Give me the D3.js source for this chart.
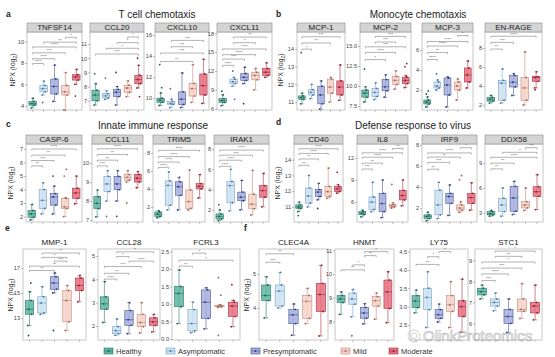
<!DOCTYPE html>
<html><head><meta charset="utf-8">
<script src="https://cdn.jsdelivr.net/npm/d3@7"></script>
<style>
body{margin:0;background:#fff;}
svg{display:block;font-family:"Liberation Sans",Arial,sans-serif;}
</style></head><body>
<svg id="c" width="555" height="357"></svg>
<script>
const groups = ["Healthy","Asymptomatic","Presymptomatic","Mild","Moderate"];
const panelNames = ["TNFSF14","CCL20","CXCL10","CXCL11","MCP-1","MCP-2","MCP-3","EN-RAGE",
  "CASP-6","CCL11","TRIM5","IRAK1","CD40","IL8","IRF9","DDX58",
  "MMP-1","CCL28","FCRL3","CLEC4A","HNMT","LY75","STC1"];
const sectionTitles = ["T cell chemotaxis","Monocyte chemotaxis","Innate immune response","Defense response to virus"];
const sectionLetters = ["a","b","c","d","e","f"];
const panelDomains = [[3.6,10.9],[6.35,11.85],[8.87,16.3],[5.8,18.2],[10.55,14.97],[7.0,16.75],[0,7.8],[1.47,9.7],
  [1.6,7.37],[6.9,11.0],[0.33,9.0],[0.8,8.5],[10.04,15.0],[3.3,13.9],[0.67,8.1],[1.9,11.3],
  [11.24,18.52],[1.4,5.3],[-0.03,2.57],[3.06,5.74],[7.22,11.06],[2.09,4.57],[5.21,9.55]];
const panelTicks = [[4,6,8,10],[7,8,9,10,11],[10,12,14,16],[6,9,12,15,18],[11,12,13,14],[7.5,10,12.5,15],[2,4,6],[2,4,6,8],
  [2,3,4,5,6,7],[7,8,9,10],[2,4,6,8],[2,4,6,8],[11,12,13,14],[6,9,12],[2,4,6,8],[3,6,9],
  [13,15,17],[2,3,4,5],[0,0.5,1,1.5,2,2.5],[4,5],[8,9,10,11],[2.5,3,3.5,4,4.5],[6,7,8,9]];
const panelTickFormat = ["d","d","d","d","d",".1f","d","d","d","d","d","d","d","d","d","d","d","d",".1f","d","d",".1f","d"];
// [whisker low, q1, median, q3, whisker high] per group
const panelStats = [
 [[3.8,4.05,4.2,4.4,4.7],[5.0,5.3,5.6,5.9,6.3],[4.4,5.1,5.8,6.5,7.8],[3.6,5.0,5.3,5.9,7.1],[6.0,6.4,6.7,6.9,7.4]],
 [[6.7,7.0,7.4,7.75,8.2],[7.1,7.2,7.35,7.5,7.7],[6.7,7.3,7.6,7.8,8.0],[7.3,7.6,7.9,8.1,8.4],[7.9,8.2,8.5,8.8,9.5]],
 [[9.3,9.6,9.8,10.0,10.5],[9.1,9.4,9.5,9.7,9.9],[9.1,9.4,9.9,10.6,12.4],[9.6,10.2,10.9,11.4,13.2],[9.5,10.3,11.2,12.3,13.7]],
 [[6.5,7.0,7.3,7.6,8.2],[9.6,10.0,10.3,10.7,11.0],[10.0,10.5,11.0,11.6,12.6],[9.0,10.6,11.3,11.8,12.4],[11.0,11.3,11.8,12.4,13.3]],
 [[10.9,11.15,11.25,11.35,11.5],[11.2,11.4,11.55,11.7,12.0],[10.6,10.9,11.4,11.9,12.2],[11.0,11.5,11.85,12.3,12.4],[11.1,11.4,11.85,12.2,13.1]],
 [[8.0,8.6,9.1,9.5,9.9],[8.3,8.7,9.2,9.7,10.4],[8.6,9.4,9.9,10.8,11.4],[9.6,10.2,10.7,11.2,11.9],[9.8,10.3,10.7,11.1,11.3]],
 [[0.3,0.6,0.8,1.0,1.3],[2.0,2.2,2.4,2.8,3.0],[0.3,1.5,2.5,3.2,3.3],[1.0,2.0,2.4,2.8,3.1],[2.2,2.8,3.5,4.2,4.9]],
 [[2.2,2.4,2.6,2.8,3.0],[2.2,2.5,4.3,4.6,5.8],[3.0,3.9,4.4,5.1,5.3],[2.0,2.5,3.8,4.9,7.6],[3.8,4.5,4.9,5.0,5.5]],
 [[1.75,1.95,2.2,2.45,2.9],[2.2,2.6,3.2,4.0,4.5],[2.2,2.85,3.45,3.7,4.25],[2.0,2.6,2.72,3.35,3.4],[2.95,3.35,3.75,4.1,5.0]],
 [[7.17,7.6,7.88,8.23,8.58],[8.0,8.5,8.9,9.3,9.6],[8.0,8.6,8.9,9.3,9.6],[9.0,9.1,9.25,9.4,9.6],[8.7,9.0,9.2,9.4,9.55]],
 [[0.8,0.95,1.2,1.45,1.6],[1.67,2.2,4.4,4.9,5.9],[1.67,3.3,4.25,4.8,5.3],[1.67,1.85,2.6,3.9,6.1],[3.0,4.0,4.3,4.6,5.6]],
 [[0.95,1.1,1.35,1.6,2.0],[1.9,2.7,4.4,4.8,6.0],[2.0,2.9,3.25,3.75,4.9],[1.5,2.1,2.55,3.55,5.9],[2.3,3.25,3.9,4.4,5.6]],
 [[10.7,10.9,11.0,11.13,11.3],[11.0,11.24,11.7,12.2,13.0],[11.45,11.66,11.94,12.1,12.5],[11.55,11.66,11.97,12.3,13.47],[11.87,11.98,12.15,12.3,12.42]],
 [[4.0,4.3,4.5,4.7,4.9],[4.7,5.0,6.0,6.7,8.7],[3.9,4.7,5.8,7.2,9.0],[5.2,5.35,5.5,5.7,5.9],[5.5,6.3,6.9,7.6,9.0]],
 [[0.8,1.0,1.2,1.35,1.6],[1.0,1.35,2.3,3.7,4.45],[1.3,2.45,3.1,3.4,4.2],[1.6,1.8,2.0,2.3,2.6],[1.8,2.45,3.0,3.4,4.4]],
 [[2.6,2.75,2.9,3.15,3.3],[2.6,3.16,3.96,4.76,6.0],[2.8,3.2,4.8,6.2,6.8],[3.3,3.6,3.95,4.35,6.0],[3.4,5.0,5.55,6.15,7.6]],
 [[12.4,13.3,13.7,14.4,15.1],[13.3,13.4,14.2,14.7,15.5],[15.0,15.3,15.8,16.3,16.6],[12.0,12.7,14.4,15.2,15.6],[14.3,15.2,15.6,16.2,16.4]],
 [[2.15,2.72,2.95,3.25,3.9],[1.6,1.67,1.8,1.97,2.3],[1.67,2.03,2.27,2.66,3.0],[1.7,1.97,2.15,2.5,3.0],[1.75,2.03,2.18,2.35,2.5]],
 [[0.44,0.92,1.3,1.5,1.97],[0.18,0.23,0.44,0.84,1.05],[0.29,0.59,1.05,1.4,1.46],[0.9,0.92,0.94,0.96,0.98],[0.35,0.64,0.94,1.05,1.1]],
 [[3.71,4.22,4.37,4.68,4.92],[4.0,4.06,4.5,4.68,5.05],[3.2,3.54,3.8,3.96,4.12],[3.54,3.7,4.2,4.37,4.58],[3.18,3.9,4.4,4.73,5.26]],
 [[8.3,8.8,8.95,9.1,9.25],[8.2,8.73,8.95,9.2,9.35],[7.9,8.14,8.36,8.6,8.75],[8.1,8.65,8.88,9.05,9.2],[7.95,8.55,9.25,9.75,10.1]],
 [[2.83,2.97,3.15,3.3,3.45],[2.43,2.92,3.25,3.5,3.95],[2.58,2.68,2.78,2.92,3.07],[2.43,2.87,3.05,3.3,3.68],[2.3,2.73,3.0,3.16,3.75]],
 [[7.17,7.36,7.52,7.68,7.83],[6.6,6.83,7.0,7.17,7.45],[5.57,6.0,6.33,6.67,7.17],[6.24,6.58,6.67,7.17,7.9],[6.17,6.5,6.83,7.0,7.83]]
];
const panelOutliers = [
 [[],[4.3],[],[],[4.9]],
 [[8.9],[8.6],[9.0],[],[10.0,7.3]],
 [[13.2,11.0],[10.9],[],[],[]],
 [[8.8],[12.0,7.5],[6.8],[],[]],
 [[13.8],[],[],[],[]],
 [[12.1],[],[],[],[12.4,12.8]],
 [[1.6,1.9],[3.6],[],[],[]],
 [[],[],[],[],[3.6]],
 [[],[],[5.0],[5.0,5.5],[]],
 [[],[7.2],[7.2],[7.9],[]],
 [[],[],[],[],[]],
 [[2.5],[],[],[],[]],
 [[10.45],[],[10.9],[],[13.2]],
 [[],[],[],[8.4],[]],
 [[],[],[],[4.7,5.1],[]],
 [[],[],[],[],[]],
 [[11.6,15.8],[],[12.0],[],[]],
 [[],[],[],[],[]],
 [[],[],[],[1.75,1.25,0.1],[1.55]],
 [[],[],[],[],[]],
 [[],[7.4],[],[],[]],
 [[],[],[],[],[]],
 [[],[],[],[],[]]
];
// [group i, group j, label, y value]
const panelBrackets = [
 [[0,1,"****",7.95],[0,2,"****",8.4],[0,3,"***",8.95],[0,4,"****",9.5],[1,4,"**",9.95],[3,4,"*",10.4]],
 [[3,4,"*",11.5],[2,4,"*",11.1],[1,4,"*",10.7],[0,4,"***",10.3]],
 [[1,4,"***",15.5],[1,3,"***",14.9],[0,4,"***",14.3],[0,3,"**",13.5]],
 [[1,4,"**",17.4],[1,3,"*",16.5],[0,4,"****",15.5],[0,3,"****",14.6],[0,2,"***",13.9],[0,1,"****",12.9]],
 [[0,4,"***",14.7],[0,3,"**",14.35],[0,1,"*",14.0]],
 [[1,4,"***",16.2],[1,3,"***",15.5],[0,4,"***",14.9],[0,3,"****",14.2],[0,2,"*",13.3]],
 [[3,4,"*",7.45],[0,4,"****",6.85],[0,3,"****",6.4],[0,2,"**",5.75],[0,1,"****",5.05]],
 [[0,4,"****",9.25],[0,2,"***",8.6],[0,1,"**",7.9]],
 [[0,4,"****",7.0],[0,3,"**",6.55],[0,2,"***",6.15],[0,1,"**",5.75]],
 [[0,4,"****",10.75],[0,3,"**",10.45],[0,2,"**",10.15],[0,1,"***",9.85]],
 [[0,4,"****",8.3],[0,3,"****",7.6],[0,2,"****",7.0],[0,1,"****",6.4]],
 [[0,4,"****",7.9],[0,3,"***",7.4],[0,2,"****",6.9],[0,1,"****",6.3]],
 [[0,4,"****",14.7],[0,3,"****",14.4],[0,2,"**",14.05],[0,1,"**",13.65]],
 [[3,4,"**",13.3],[0,4,"****",12.7],[0,3,"****",12.1],[0,2,"**",11.3],[0,1,"***",10.5]],
 [[3,4,"*",7.75],[0,4,"****",7.25],[0,3,"**",6.85],[0,2,"***",6.35],[0,1,"**",5.7]],
 [[3,4,"***",10.85],[1,4,"*",10.3],[0,4,"****",9.7],[0,2,"**",9.0],[0,1,"**",8.3]],
 [[1,4,"**",18.2],[1,3,"*",17.85],[2,3,"***",17.55],[0,4,"**",17.15],[0,2,"**",16.8]],
 [[1,4,"*",5.18],[1,2,"*",4.98],[2,4,"****",4.78],[0,3,"***",4.55],[0,2,"**",4.26],[0,1,"****",4.01]],
 [[1,2,"*",2.45],[0,4,"*",2.25],[0,1,"**",2.08]],
 [[0,2,"**",5.6],[0,1,"***",5.35]],
 [[2,4,"*",10.95],[2,3,"**",10.78],[1,2,"*",10.39],[0,2,"**",10.18]],
 [[2,3,"*",4.5],[1,2,"*",4.36],[0,2,"**",4.15]],
 [[1,4,"*",9.45],[1,3,"**",9.2],[0,4,"*",8.93],[0,3,"***",8.64],[0,2,"****",8.36],[0,1,"***",8.05]]
];

// styles
const groupFill = ["#5db4a1","#cde2f1","#a6afdd","#f5d2c7","#e66f7f"];
const groupStroke = ["#2c7a68","#7aa2c5","#4a569a","#c68a7d","#a93245"];
const groupDot = ["#1f5e50","#44729c","#2f3a7a","#a0645a","#8a1f30"];
const FONT = '"Liberation Sans",Arial,sans-serif';

const svg = d3.select("#c");
svg.append("rect").attr("width",555).attr("height",357).attr("fill","#fff");

// layout
const rows = [
 {panels:[0,1,2,3], xs:[[27,82],[90,144],[155,209],[217,272]], header:[23,32], plot:[32,110], npx:[15,70]},
 {panels:[4,5,6,7], xs:[[297,345],[360,411],[422,473],[485,542]], header:[23,32], plot:[32,110], npx:[283,70]},
 {panels:[8,9,10,11], xs:[[26,82],[92,143],[153,205],[214,269]], header:[135,144], plot:[144,222], npx:[13,183]},
 {panels:[12,13,14,15], xs:[[294,343],[357,408],[422,477],[485,543]], header:[135,144], plot:[144,222], npx:[280,183]},
 {panels:[16,17,18], xs:[[23,86],[98,160],[172,240]], header:null, titleY:245, plot:[249,340], npx:[13,295]},
 {panels:[19,20,21,22], xs:[[259,328],[335,394],[410,468],[475,542]], header:null, titleY:245, plot:[249,340], npx:[249,295]}
];

function drawPanel(pi, xr, r){
  const [x0,x1] = xr, [pt,pb] = r.plot;
  const g = svg.append("g");
  const y = d3.scaleLinear().domain(panelDomains[pi]).range([pb,pt]);
  const x = d3.scaleBand().domain(d3.range(5)).range([x0,x1]).paddingInner(0.32).paddingOuter(0.18);
  const bw = x.bandwidth();
  const cx = i => x(i) + bw/2;
  g.append("rect").attr("x",x0).attr("y",pt).attr("width",x1-x0).attr("height",pb-pt)
    .attr("fill","#fff").attr("stroke","#b0b0b0").attr("stroke-width",0.7);
  if (r.header){
    g.append("rect").attr("x",x0).attr("y",r.header[0]).attr("width",x1-x0).attr("height",r.header[1]-r.header[0])
      .attr("fill","#d4d4d4").attr("stroke","#8a8a8a").attr("stroke-width",0.6);
    g.append("text").attr("x",(x0+x1)/2).attr("y",(r.header[0]+r.header[1])/2+2.8)
      .attr("text-anchor","middle").attr("font-size",8).attr("fill","#222").text(panelNames[pi]);
  } else {
    g.append("text").attr("x",(x0+x1)/2).attr("y",r.titleY)
      .attr("text-anchor","middle").attr("font-size",8).attr("fill","#222").text(panelNames[pi]);
  }
  const ax = d3.axisLeft(y).tickValues(panelTicks[pi]).tickSize(2).tickPadding(1)
    .tickFormat(d3.format(panelTickFormat[pi]));
  const ag = g.append("g").attr("transform",`translate(${x0},0)`).call(ax);
  ag.select(".domain").remove();
  ag.selectAll("line").attr("stroke","#777").attr("stroke-width",0.5);
  ag.selectAll("text").attr("font-size",5.6).attr("fill","#444").attr("font-family",FONT);
  // bottom ticks
  g.selectAll(".bt").data(d3.range(5)).join("line")
    .attr("x1",cx).attr("x2",cx).attr("y1",pb).attr("y2",pb+2).attr("stroke","#888").attr("stroke-width",0.5);
  // boxes
  const st = panelStats[pi];
  st.forEach((s,i)=>{
    const [lo,q1,md,q3,hi] = s;
    const c = cx(i);
    g.append("line").attr("x1",c).attr("x2",c).attr("y1",y(lo)).attr("y2",y(hi))
      .attr("stroke",groupStroke[i]).attr("stroke-width",0.6);
    [lo,hi].forEach(v=>g.append("line").attr("x1",c-bw*0.22).attr("x2",c+bw*0.22).attr("y1",y(v)).attr("y2",y(v))
      .attr("stroke",groupStroke[i]).attr("stroke-width",0.6));
    g.append("rect").attr("x",x(i)).attr("y",y(q3)).attr("width",bw).attr("height",Math.max(0.6,y(q1)-y(q3)))
      .attr("fill",groupFill[i]).attr("fill-opacity",0.85).attr("stroke",groupStroke[i]).attr("stroke-width",0.6);
    g.append("line").attr("x1",x(i)).attr("x2",x(i)+bw).attr("y1",y(md)).attr("y2",y(md))
      .attr("stroke",groupStroke[i]).attr("stroke-width",0.7);
    const offs = [-0.2,0.24,-0.1,0.18,0.06];
    s.forEach((v,k)=>g.append("circle").attr("cx",c+offs[k]*bw).attr("cy",y(v)).attr("r",0.9).attr("fill",groupDot[i]));
    panelOutliers[pi][i].forEach((v,k)=>g.append("circle").attr("cx",c+(k%2?0.15:-0.12)*bw).attr("cy",y(v)).attr("r",0.9).attr("fill",groupDot[i]));
  });
  // brackets
  panelBrackets[pi].forEach(([a,b,lab,v])=>{
    const xa = cx(a), xb = cx(b), yy = y(v);
    g.append("path").attr("d",`M${xa},${yy+1.6}V${yy}H${xb}V${yy+1.6}`)
      .attr("fill","none").attr("stroke","#666").attr("stroke-width",0.5);
    g.append("text").attr("x",(xa+xb)/2).attr("y",yy-0.6).attr("text-anchor","middle")
      .attr("font-size",4.4).attr("fill","#555").text(lab);
  });
}

rows.forEach(r=>{
  r.panels.forEach((pi,k)=>drawPanel(pi, r.xs[k], r));
  const t = svg.append("text").attr("transform",`translate(${r.npx[0]},${r.npx[1]}) rotate(-90)`)
    .attr("text-anchor","middle").attr("font-size",7).attr("fill","#333");
  t.append("tspan").text("NPX (log");
  t.append("tspan").attr("font-size",5).attr("dy",1.5).text("2");
  t.append("tspan").attr("dy",-1.5).text(")");
});

// section titles and letters
const titlePos = [[157,17.5],[418,17.5],[153,129],[413,129]];
sectionTitles.forEach((s,i)=>svg.append("text").attr("x",titlePos[i][0]).attr("y",titlePos[i][1])
  .attr("text-anchor","middle").attr("font-size",10).attr("fill","#222").text(s));
const letterPos = [[6,17],[276,17],[6,127],[276,125],[5,231],[244,231]];
sectionLetters.forEach((s,i)=>svg.append("text").attr("x",letterPos[i][0]).attr("y",letterPos[i][1])
  .attr("font-size",8.5).attr("font-weight","bold").attr("fill","#222").text(s));

// legend
const legX = [104,166,251,341,389];
groups.forEach((gname,i)=>{
  const lg = svg.append("g").attr("transform",`translate(${legX[i]},348)`);
  lg.append("rect").attr("x",0).attr("y",0).attr("width",9).attr("height",6)
    .attr("fill",groupFill[i]).attr("stroke",groupStroke[i]).attr("stroke-width",0.6);
  lg.append("line").attr("x1",0).attr("x2",9).attr("y1",3).attr("y2",3).attr("stroke",groupStroke[i]).attr("stroke-width",0.6);
  lg.append("circle").attr("cx",4.5).attr("cy",3).attr("r",0.9).attr("fill",groupDot[i]);
  lg.append("text").attr("x",12).attr("y",5.8).attr("font-size",7.5).attr("fill","#333").text(gname);
});

// watermark
const wm = svg.append("g").attr("opacity",0.55);
wm.append("circle").attr("cx",414).attr("cy",336).attr("r",6).attr("fill","none").attr("stroke","#999").attr("stroke-width",0.8);
wm.append("circle").attr("cx",414).attr("cy",336).attr("r",3).attr("fill","none").attr("stroke","#999").attr("stroke-width",0.8);
wm.append("text").attr("x",423).attr("y",341).attr("font-size",15).attr("fill","#fff")
  .attr("stroke","#8a8a8a").attr("stroke-width",0.7).text("OlinkProteomics");
</script></body></html>
